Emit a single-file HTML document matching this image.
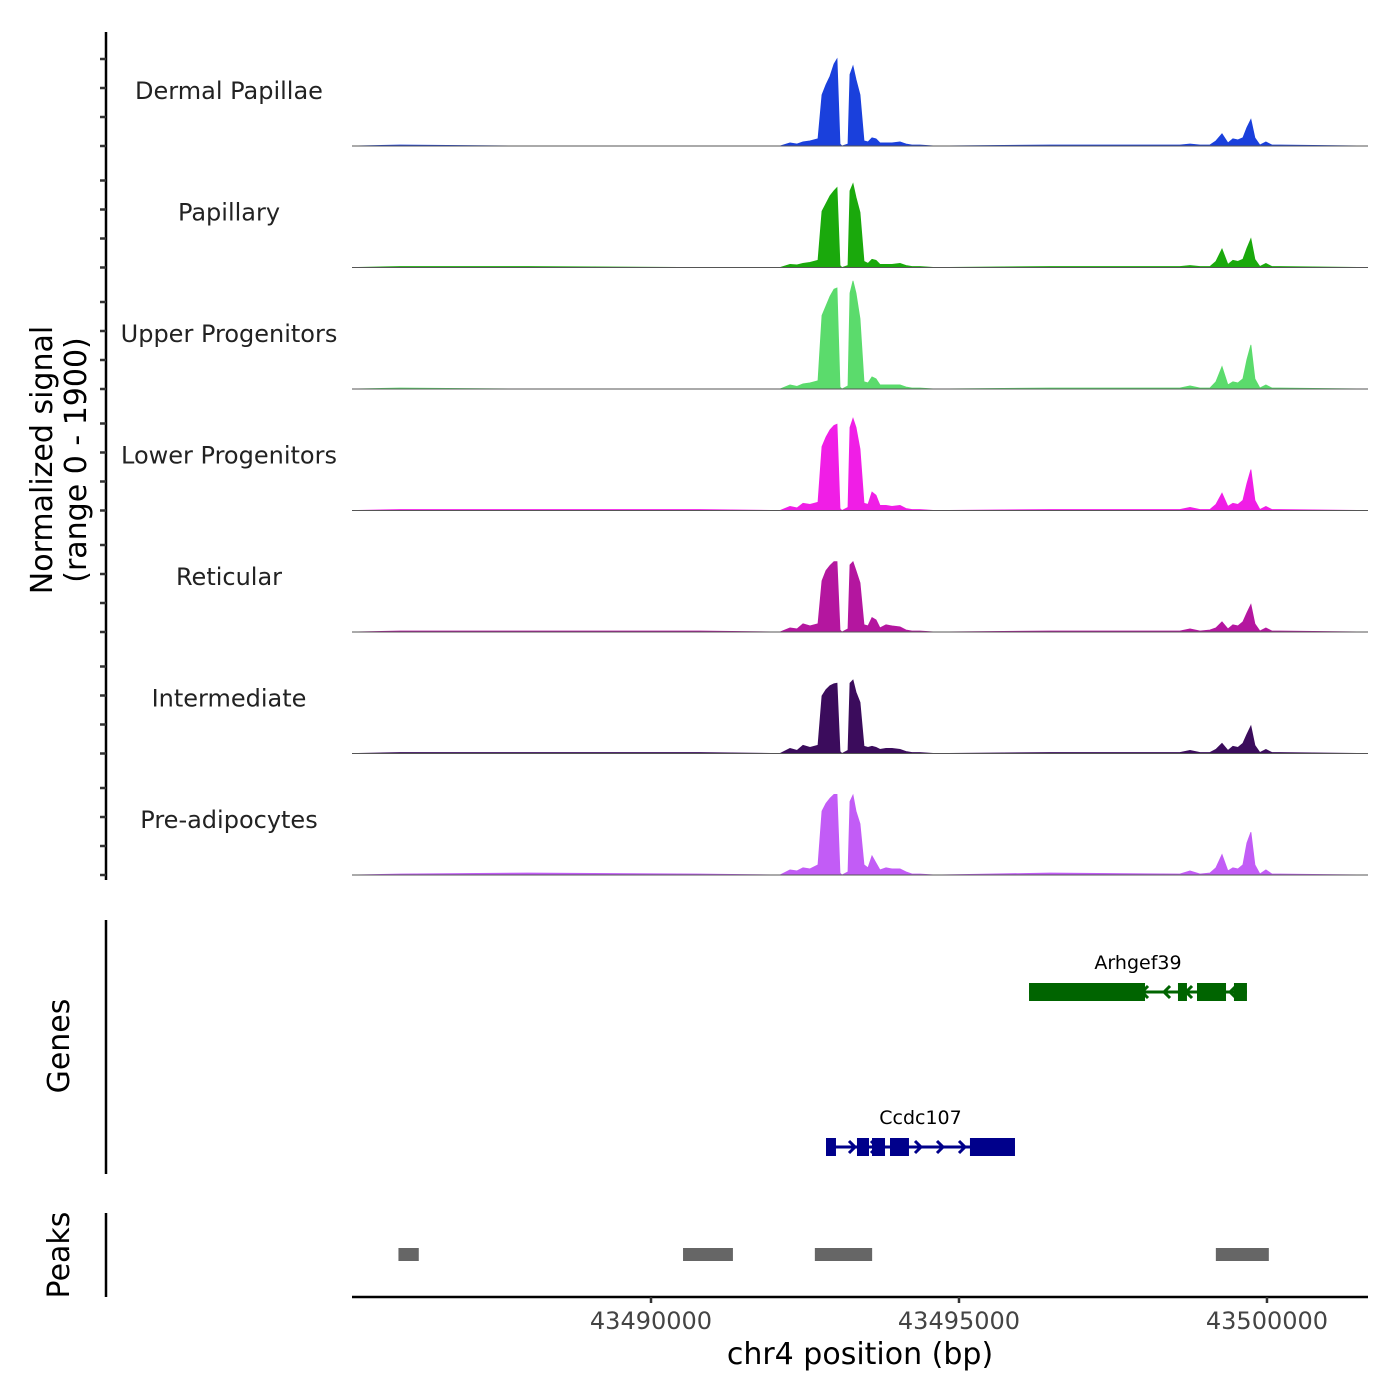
<!DOCTYPE html>
<html><head><meta charset="utf-8"><style>
html,body{margin:0;padding:0;background:#fff}
svg{display:block;font-family:"DejaVu Sans","Liberation Sans",sans-serif}
</style></head><body>
<svg id="chart" width="1400" height="1400" viewBox="0 0 1400 1400" xmlns="http://www.w3.org/2000/svg">
<g id="tracks"></g>
<g id="axes"></g>
<g id="genes"></g>
<g id="peaks"></g>
</svg>
<script>
const trackNames = ["Dermal Papillae","Papillary","Upper Progenitors","Lower Progenitors","Reticular","Intermediate","Pre-adipocytes"];
const trackColors = ["#1a40dc","#1aa90c","#5bdb6c","#f01ee6","#b4169f","#3b0c5c","#c25cf6"];
const positions = [43485146,43485925,43488000,43490795,43492094,43492256,43492370,43492468,43492581,43492711,43492776,43492841,43492906,43492971,43493020,43493069,43493101,43493199,43493231,43493280,43493328,43493393,43493458,43493523,43493588,43493653,43493718,43493815,43493912,43494042,43494139,43494237,43494367,43494610,43496477,43498587,43498750,43498912,43499074,43499171,43499269,43499366,43499447,43499528,43499609,43499674,43499739,43499804,43499885,43499982,43500080,43500209,43501640];
const sigDermal = [0,16,0,0,0,48,32,64,80,112,800,960,1090,1280,1360,32,0,32,1120,1250,1040,800,80,64,128,112,48,48,48,64,32,16,16,0,16,16,32,16,16,80,190,48,112,96,128,290,415,128,16,64,16,16,0];
const sigPapillary = [0,16,16,0,0,48,40,64,80,112,880,1000,1120,1200,1250,32,0,32,1200,1310,1100,860,96,64,128,112,48,48,48,64,32,16,16,0,16,16,32,16,16,96,290,48,112,96,128,300,450,128,16,64,16,16,0];
const sigUpper = [0,16,0,0,0,64,40,80,96,128,1150,1300,1450,1560,1580,32,0,48,1500,1690,1500,1100,112,96,190,160,64,64,64,64,32,16,16,0,16,16,48,16,16,112,350,64,112,96,160,460,690,160,16,64,16,16,0];
const sigLower = [0,16,16,16,0,64,40,112,96,128,1000,1150,1260,1330,1350,32,0,48,1300,1440,1300,960,112,96,290,240,80,80,64,80,32,16,16,0,16,16,48,16,16,96,270,64,112,96,160,420,640,160,16,64,16,16,0];
const sigReticular = [0,16,16,16,0,64,48,128,96,128,800,960,1040,1100,1100,32,0,48,1050,1100,960,770,112,96,225,190,64,112,96,80,32,16,16,0,16,16,48,16,32,64,160,48,112,96,160,300,430,128,16,64,16,16,0];
const sigIntermediate = [0,16,16,16,0,80,48,128,96,128,900,1000,1060,1090,1100,32,0,48,1100,1150,960,800,112,96,112,96,64,80,80,64,32,16,16,0,16,16,48,16,16,64,160,48,112,96,160,300,430,128,16,64,16,16,0];
const sigPreadipo = [0,16,32,16,0,80,64,112,96,160,1000,1120,1200,1260,1260,32,0,48,1150,1250,1000,800,160,112,300,190,80,112,96,96,48,16,16,0,32,16,64,16,32,112,320,64,112,96,160,500,670,160,16,80,16,16,0];
const trackSignals = [sigDermal,sigPapillary,sigUpper,sigLower,sigReticular,sigIntermediate,sigPreadipo];
const xTickValues = [43490000,43495000,43500000];
const xTickLabels = ["43490000","43495000","43500000"];
const peakStarts = [43485900,43490520,43492660,43499170];
const peakEnds = [43486230,43491330,43493590,43500030];
const geneNames = ["Arhgef39","Ccdc107"];
const arhExonStarts = [43496137,43498555,43498864,43499464];
const arhExonEnds = [43498020,43498701,43499335,43499675];
const ccdExonStarts = [43492841,43493344,43493588,43493880,43495178];
const ccdExonEnds = [43493003,43493539,43493799,43494188,43495909];

const NS="http://www.w3.org/2000/svg";
const X0=352,X1=1368,BP0=43485146,BP1=43501640;
const xs=v=>X0+(v-BP0)/(BP1-BP0)*(X1-X0);
const YMAX=1900, TH=121.5, BASE0=146;
const ys=(v,i)=>BASE0+i*TH - v/YMAX*TH;
function mk(tag,attrs,parent){const e=document.createElementNS(NS,tag);for(const k in attrs)e.setAttribute(k,attrs[k]);parent.appendChild(e);return e;}

const tracks=document.getElementById('tracks');
trackNames.forEach((name,i)=>{
  const sig=trackSignals[i];
  let d=`M${xs(positions[0])},${ys(0,i)}`;
  positions.forEach((p,j)=>{d+=` L${xs(p).toFixed(1)},${ys(sig[j],i).toFixed(1)}`;});
  d+=` L${xs(positions[positions.length-1])},${ys(0,i)} Z`;
  const a=mk('path',{d:d,fill:trackColors[i],stroke:trackColors[i],'stroke-width':0.8},tracks);
  
  
  const b=mk('line',{x1:X0,x2:X1,y1:ys(0,i),y2:ys(0,i),stroke:'#555','stroke-width':1},tracks);
  
  
  const t=mk('text',{x:229,y:ys(0,i)-47,'text-anchor':'middle','font-size':24,fill:'#222'},tracks);
  t.textContent=name;
  
  
});

const axes=document.getElementById('axes');
let l=mk('line',{x1:106,x2:106,y1:32,y2:880,stroke:'#000','stroke-width':2.5},axes);


for(let i=0;i<7;i++){for(let k=0;k<4;k++){const y=BASE0+i*TH-k*29;
  const tk=mk('line',{x1:100,x2:106,y1:y,y2:y,stroke:'#333','stroke-width':2.5},axes);
  
  }}
let yt=mk('text',{x:0,y:0,transform:'translate(52,460) rotate(-90)','text-anchor':'middle','font-size':30,fill:'#000'},axes);
yt.textContent='Normalized signal';


let yt2=mk('text',{x:0,y:0,transform:'translate(86,460) rotate(-90)','text-anchor':'middle','font-size':30,fill:'#000'},axes);
yt2.textContent='(range 0 - 1900)';


let xl=mk('line',{x1:X0,x2:X1,y1:1297,y2:1297,stroke:'#000','stroke-width':2.5},axes);


xTickValues.forEach((v,i)=>{
  const tk=mk('line',{x1:xs(v),x2:xs(v),y1:1297,y2:1303,stroke:'#333','stroke-width':2.5},axes);
  
  
  const tl=mk('text',{x:xs(v),y:1329,'text-anchor':'middle','font-size':24,fill:'#444'},axes);
  tl.textContent=xTickLabels[i];
  
  
});
let xt=mk('text',{x:860,y:1364,'text-anchor':'middle','font-size':30,fill:'#000'},axes);
xt.textContent='chr4 position (bp)';



const genes=document.getElementById('genes');
let gl=mk('line',{x1:106,x2:106,y1:920,y2:1174,stroke:'#000','stroke-width':2.5},genes);


let gt=mk('text',{x:0,y:0,transform:'translate(69,1046) rotate(-90)','text-anchor':'middle','font-size':30,fill:'#000'},genes);
gt.textContent='Genes';


function drawGene(name,starts,ends,y,color,dir,key){
  const g=mk('g',{},genes);
  
  
  const s=Math.min(...starts),e=Math.max(...ends);
  mk('line',{x1:xs(s),x2:xs(e),y1:y,y2:y,stroke:color,'stroke-width':3},g);
  for(let x=xs(s)+5;x<xs(e);x+=22){mk('path',{d:dir>0?`M${x-4},${y-6} L${x+2},${y} L${x-4},${y+6}`:`M${x+4},${y-6} L${x-2},${y} L${x+4},${y+6}`,fill:'none',stroke:color,'stroke-width':3},g);}
  starts.forEach((st,i)=>mk('rect',{x:xs(st),y:y-9,width:xs(ends[i])-xs(st),height:18,fill:color},g));
  const t=mk('text',{x:(xs(s)+xs(e))/2,y:y-23,'text-anchor':'middle','font-size':19,fill:'#000'},g);
  t.textContent=name;
}
drawGene(geneNames[0],arhExonStarts,arhExonEnds,992,'#006400',-1,'arhgef39');
drawGene(geneNames[1],ccdExonStarts,ccdExonEnds,1147,'#00008b',1,'ccdc107');

const peaks=document.getElementById('peaks');
let pl=mk('line',{x1:106,x2:106,y1:1213,y2:1297,stroke:'#000','stroke-width':2.5},peaks);


let pt=mk('text',{x:0,y:0,transform:'translate(69,1255) rotate(-90)','text-anchor':'middle','font-size':30,fill:'#000'},peaks);
pt.textContent='Peaks';


peakStarts.forEach((s,i)=>{
  const r=mk('rect',{x:xs(s),y:1248,width:xs(peakEnds[i])-xs(s),height:13,fill:'#666'},peaks);
  
  
});
</script>
</body></html>
